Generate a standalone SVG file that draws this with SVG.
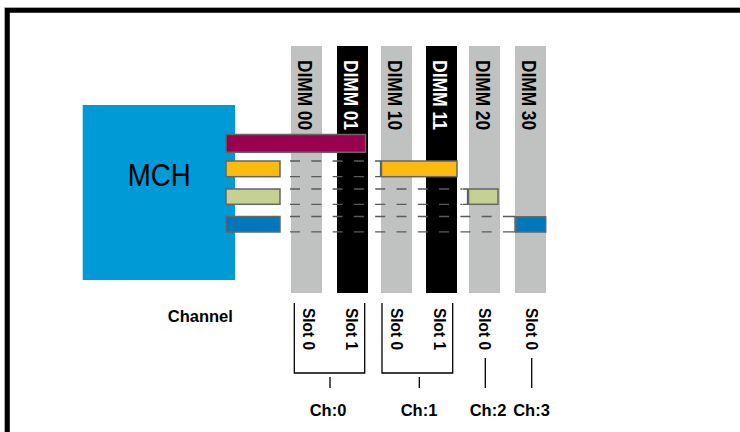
<svg xmlns="http://www.w3.org/2000/svg" width="740" height="432" viewBox="0 0 740 432">
<style>
.frame-g{fill:none;stroke:#a8a8a8;stroke-width:1}
.frame{fill:none;stroke:#000;stroke-width:4.8}
.dimm-g{fill:#c0c1c1}
.dimm-b{fill:#000}
.dl{font-family:"Liberation Sans",Arial,sans-serif;font-weight:bold;font-size:20px}
.sl{font-family:"Liberation Sans",Arial,sans-serif;font-weight:bold;font-size:16px;fill:#000}
.ch{font-family:"Liberation Sans",Arial,sans-serif;font-weight:bold;font-size:16.5px;fill:#000;text-anchor:middle}
.bar{stroke:#666;stroke-width:1.5}
.dash{fill:none;stroke:#5a5a5a;stroke-width:1.3;stroke-dasharray:10 11.3}
.tick{fill:none;stroke:#5a5a5a;stroke-width:1.3}
.br{fill:none;stroke:#000;stroke-width:1.3}
</style>
<rect width="740" height="432" fill="#fff"/>
<path class="frame-g" d="M4.5 432 V7.5 H740"/>
<path class="frame" d="M7.4 432 V10.4 H740"/>

<g id="mch">
<rect x="82.7" y="105" width="152.3" height="175" fill="#009ad6"/>
<text x="159.3" y="185.7" font-family="'Liberation Sans',Arial,sans-serif" font-size="31" text-anchor="middle" textLength="63" lengthAdjust="spacingAndGlyphs">MCH</text>
</g>

<g id="dimm00"><rect class="dimm-g" x="291" y="46" width="31" height="247"/><text class="dl" fill="#000" transform="translate(298 60) rotate(90)" textLength="70" lengthAdjust="spacingAndGlyphs">DIMM 00</text></g>
<g id="dimm01"><rect class="dimm-b" x="337" y="46" width="31" height="247"/><text class="dl" fill="#fff" transform="translate(343.5 60) rotate(90)" textLength="70" lengthAdjust="spacingAndGlyphs">DIMM 01</text></g>
<g id="dimm10"><rect class="dimm-g" x="381" y="46" width="31" height="247"/><text class="dl" fill="#000" transform="translate(388 60) rotate(90)" textLength="70" lengthAdjust="spacingAndGlyphs">DIMM 10</text></g>
<g id="dimm11"><rect class="dimm-b" x="426" y="46" width="31" height="247"/><text class="dl" fill="#fff" transform="translate(433 60) rotate(90)" textLength="70" lengthAdjust="spacingAndGlyphs">DIMM 11</text></g>
<g id="dimm20"><rect class="dimm-g" x="469" y="46" width="31" height="247"/><text class="dl" fill="#000" transform="translate(476 60) rotate(90)" textLength="70" lengthAdjust="spacingAndGlyphs">DIMM 20</text></g>
<g id="dimm30"><rect class="dimm-g" x="515" y="46" width="31" height="247"/><text class="dl" fill="#000" transform="translate(522 60) rotate(90)" textLength="70" lengthAdjust="spacingAndGlyphs">DIMM 30</text></g>

<g id="connectors">
<path class="dash" d="M290 161 H376 M290 176.7 H376"/>
<path class="tick" d="M375.5 161 H380.5 V176.7 H375.5"/>
<path class="dash" d="M290 189 H462 M290 204.3 H462"/>
<path class="tick" d="M462.5 189 H467.5 V204.3 H462.5"/>
<path class="dash" d="M290 216.5 H510 M290 231.8 H510"/>
<path class="tick" d="M510 216.5 H515 V231.8 H510"/>
</g>

<g id="ch0-bus"><rect class="bar" x="226" y="134.5" width="139.5" height="17.8" fill="#990050"/></g>
<g id="ch1-bus"><rect class="bar" x="226" y="161" width="54" height="15.7" fill="#fbba0f"/><rect class="bar" x="381.5" y="161" width="75.5" height="15.7" fill="#fbba0f"/></g>
<g id="ch2-bus"><rect class="bar" x="226" y="189" width="54" height="15.3" fill="#c4d094"/><rect class="bar" x="468.5" y="189" width="29.5" height="15.3" fill="#c4d094"/></g>
<g id="ch3-bus"><rect class="bar" x="226" y="216.5" width="54" height="15.5" fill="#0077bb"/><rect class="bar" x="515.7" y="216.8" width="30" height="15.2" fill="#0077bb"/></g>

<g id="channel-label"><text x="200.3" y="322" class="ch">Channel</text></g>

<g id="ch0">
<text class="sl" transform="translate(303 308) rotate(90)" textLength="42" lengthAdjust="spacingAndGlyphs">Slot 0</text>
<text class="sl" transform="translate(345.5 308) rotate(90)" textLength="42" lengthAdjust="spacingAndGlyphs">Slot 1</text>
<path class="br" d="M294.3 303 V373 H364.7 V303 M330 377 V388"/>
<text x="328" y="416" class="ch">Ch:0</text>
</g>
<g id="ch1">
<text class="sl" transform="translate(391 308) rotate(90)" textLength="42" lengthAdjust="spacingAndGlyphs">Slot 0</text>
<text class="sl" transform="translate(434 308) rotate(90)" textLength="42" lengthAdjust="spacingAndGlyphs">Slot 1</text>
<path class="br" d="M382 303 V373 H452.7 V303 M419.3 377 V388"/>
<text x="419" y="416" class="ch">Ch:1</text>
</g>
<g id="ch2">
<text class="sl" transform="translate(479 308) rotate(90)" textLength="42" lengthAdjust="spacingAndGlyphs">Slot 0</text>
<path class="br" d="M485.3 358 V388"/>
<text x="488" y="416" class="ch">Ch:2</text>
</g>
<g id="ch3">
<text class="sl" transform="translate(525.5 308) rotate(90)" textLength="42" lengthAdjust="spacingAndGlyphs">Slot 0</text>
<path class="br" d="M531.7 358 V388"/>
<text x="531.5" y="416" class="ch">Ch:3</text>
</g>
</svg>
